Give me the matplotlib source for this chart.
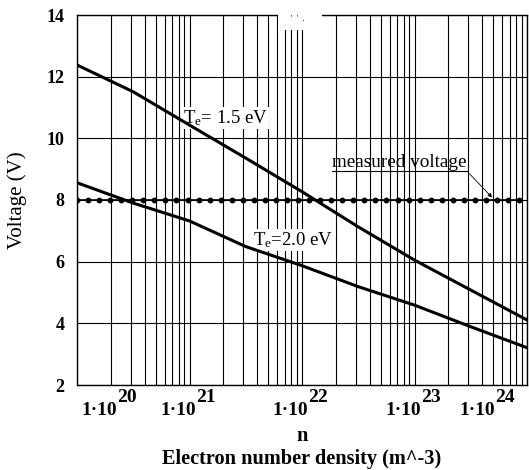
import numpy as np
import matplotlib.pyplot as plt
from matplotlib.lines import Line2D
from matplotlib.patches import Rectangle
from matplotlib.text import Text
from matplotlib.ticker import LogLocator, NullFormatter

plt.rcParams['font.family'] = 'Liberation Serif'
plt.rcParams['mathtext.fontset'] = 'custom'
plt.rcParams['mathtext.rm'] = 'Liberation Serif'
plt.rcParams['mathtext.it'] = 'Liberation Serif:italic'
plt.rcParams['mathtext.bf'] = 'Liberation Serif:bold'

n = np.array([1e20, 3.16e20, 1e21, 3.16e21, 1e22, 3.16e22, 1e23, 3.16e23, 1e24])
# Spannung fuer Te = 1.5 eV und Te = 2.0 eV
U_15 = np.array([12.38, 11.51, 10.43, 9.36, 8.27, 7.13, 6.05, 5.08, 4.11])
U_20 = np.array([8.56, 7.90, 7.32, 6.49, 5.87, 5.19, 4.59, 3.89, 3.21])

# gemessene Spannung
U_mess = 8.0
n_mess = np.logspace(20, 23.93, 41)

x_ticks = [1e20, 1e21, 1e22, 1e23, 1e24]
x_exp = ['20', '21', '22', '23', '24']
y_ticks = [2, 4, 6, 8, 10, 12, 14]

fig = plt.figure(figsize=(5.29, 4.70), dpi=100)
ax = fig.add_axes([77/529, 1 - 385/470, 450/529, 370/470])

ax.plot(n, U_15, 'k-', lw=2.2, zorder=3)
ax.plot(n, U_20, 'k-', lw=2.2, zorder=3)
ax.plot(n_mess, np.full(n_mess.size, U_mess), 'k-', lw=1.2, marker='o', ms=3.2, zorder=3)

ax.set_xscale('log')
ax.set_xlim(1e20, 1e24)
ax.set_ylim(2, 14)
ax.set_xticks(x_ticks)
ax.set_xticklabels([])
ax.xaxis.set_minor_locator(LogLocator(base=10, subs=range(2, 10)))
ax.xaxis.set_minor_formatter(NullFormatter())
ax.set_yticks(y_ticks)
ax.set_yticklabels([str(v) for v in y_ticks], fontsize=13, fontweight='bold')
ax.tick_params(which='both', length=0)
ax.tick_params(axis='y', pad=9)

ax.grid(which='both', color='k', lw=0.8)
for sp in ax.spines.values():
    sp.set_linewidth(1.0)

# x-Achsenbeschriftung im Mathcad-Stil: 1·10 mit gleich grossem Exponenten
for i, (t, e) in enumerate(zip(x_ticks, x_exp)):
    if i == 0:
        dx, ha = 3.5, 'left'
    elif i == len(x_ticks) - 1:
        dx, ha = -23, 'right'
    else:
        dx, ha = 4.5, 'right'
    base = ax.annotate('1·10', xy=(t, 0), xycoords=('data', 'axes fraction'),
                       xytext=(dx, -12), textcoords='offset points', ha=ha, va='top',
                       fontsize=14, fontweight='bold', annotation_clip=False)
    ax.annotate(e, xy=(1, 0), xycoords=base, xytext=(0, 9), textcoords='offset points',
                ha='left', va='bottom', fontsize=14, fontweight='bold', annotation_clip=False)

ax.set_ylabel('Voltage (V)', fontsize=15, labelpad=14)
ax.set_xlabel('n\nElectron number density (m^-3)', fontsize=14.6, fontweight='bold',
              linespacing=1.2, labelpad=26)

# Beschriftungen der Kurven
ax.text(8.8e20, 10.5, r'T$_\mathrm{e}$= 1.5 eV', fontsize=13.5, va='baseline',
        bbox=dict(fc='white', ec='none', pad=1), zorder=2.5)
ax.text(3.7e21, 6.54, r'T$_\mathrm{e}$=2.0 eV', fontsize=13.5, va='baseline',
        bbox=dict(fc='white', ec='none', pad=1), zorder=2.5)

# leerer Titelblock oben
ax.add_patch(Rectangle((0.447, 0.959), 0.097, 0.07, transform=ax.transAxes,
                       fc='white', ec='none', clip_on=False, zorder=2.6))
ax.text(0.49, 0.99, "'  '  .", transform=ax.transAxes, fontsize=6, ha='center',
        va='center', zorder=2.7)

txt = ax.annotate('measured voltage', xy=(4.9e23, 8.08), xytext=(1.86e22, 9.07),
                  fontsize=13.8, va='baseline', ha='left',
                  arrowprops=dict(arrowstyle='-|>', color='k', lw=0.6, relpos=(1, 0),
                                  shrinkA=0, shrinkB=0, mutation_scale=6))

# Unterstreichung (nur Textbox, ohne Pfeil)
fig.canvas.draw()
bb = Text.get_window_extent(txt, fig.canvas.get_renderer())
W, H = fig.bbox.width, fig.bbox.height
fig.add_artist(Line2D([bb.x0 / W, bb.x1 / W], [bb.y0 / H, bb.y0 / H], color='k', lw=0.8,
                      transform=fig.transFigure))

fig.savefig('out.png', dpi=100)
